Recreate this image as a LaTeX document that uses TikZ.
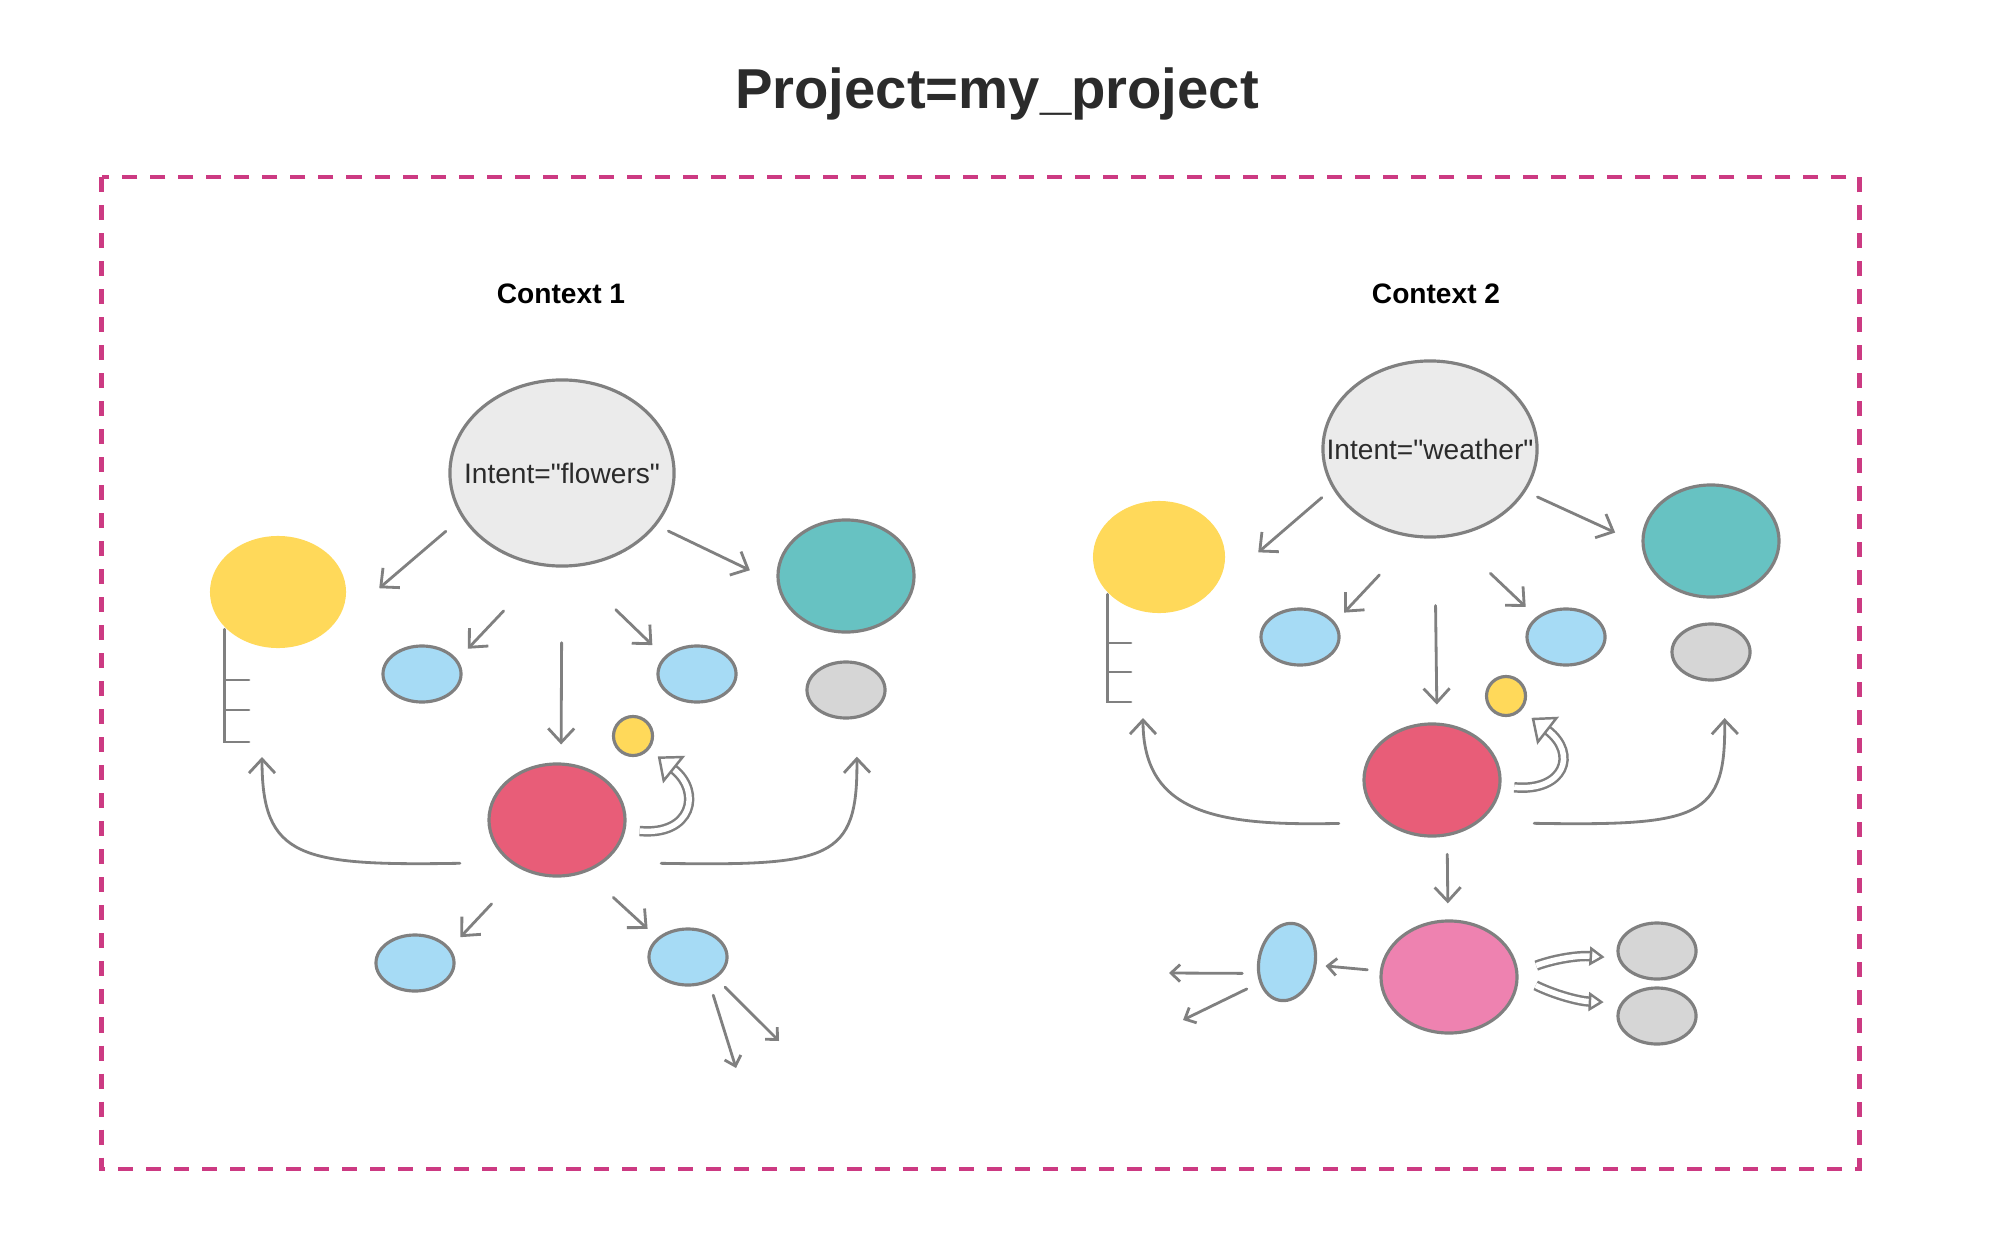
\documentclass[tikz,border=0pt]{standalone}
\usepackage{fontspec}
\newfontfamily\diagfont{Liberation Sans}
\usetikzlibrary{arrows.meta,shapes.geometric}

\definecolor{framepink}{RGB}{204,58,130}
\definecolor{linegray}{RGB}{128,128,128}
\definecolor{intentgray}{RGB}{235,235,235}
\definecolor{sunyellow}{RGB}{255,217,90}
\definecolor{tealblob}{RGB}{103,194,194}
\definecolor{skyblue}{RGB}{166,219,245}
\definecolor{softgray}{RGB}{214,214,214}
\definecolor{rosered}{RGB}{232,93,120}
\definecolor{candypink}{RGB}{238,130,176}
\definecolor{titlegray}{RGB}{43,43,43}

\begin{document}
\begin{tikzpicture}[x=0.01cm, y=-0.01cm, font=\diagfont,
    >={Straight Barb[length=1.4mm,width=2.6mm]},
    every edge/.style={draw=linegray, line width=0.8pt, line cap=round},
    blob/.style={ellipse, draw=linegray, line width=0.9pt, inner sep=0pt},
    intent/.style={blob, fill=intentgray},
    intenttext/.style={text=titlegray, font=\diagfont\fontsize{8}{10}\selectfont},
    big/.style={blob, minimum width=1.36cm, minimum height=1.12cm},
    small/.style={blob, minimum width=0.78cm, minimum height=0.56cm},
    dotblob/.style={blob, fill=sunyellow, minimum size=0.39cm},
    penline/.style={draw=linegray, line width=0.8pt, line cap=round},
    smalltip/.style={-{Straight Barb[length=0.9mm,width=1.7mm]}},
    hollow/.style={draw=linegray, line width=0.7pt, double=white, double distance=0.55mm},
    ctx/.style={font=\diagfont\bfseries\fontsize{8}{10}\selectfont, anchor=base}]
  \useasboundingbox (0,0) rectangle (1992,1243);

  \node[font=\diagfont\bfseries\fontsize{16}{19}\selectfont, text=titlegray, anchor=base] (title) at (997,109) {Project=my\_project};
  \draw[framepink, line width=1.4pt, dash pattern=on 1.5mm off 1.3mm] (101.5,177) rectangle (1859,1169);

  \node[ctx] (ctx1) at (561,304) {Context 1};
  \node[intent, minimum width=2.24cm, minimum height=1.86cm, label={[intenttext]center:Intent="flowers"}] (intent1) at (562,473) {};
  \node[big, fill=sunyellow, draw=none] (yel1) at (278,592) {};
  \node[big, fill=tealblob] (teal1) at (846,576) {};
  \node[small, fill=skyblue] (blue1a) at (422,674) {};
  \node[small, fill=skyblue] (blue1b) at (697,674) {};
  \node[small, fill=softgray] (grey1) at (846,690) {};
  \node[dotblob] (dot1) at (633,736) {};
  \node[big, fill=rosered] (red1) at (557,820) {};
  \node[small, fill=skyblue] (blue1c) at (415,963) {};
  \node[small, fill=skyblue] (blue1d) at (688,957) {};
  \coordinate (fb1) at (262,757);
  \coordinate (out1a) at (736,1068);
  \coordinate (out1b) at (779,1041);

  \path[->]
  (intent1.204) edge[shorten <=2.1mm, shorten >=7mm] (yel1.319)
  (intent1.331) edge[shorten <=1.3mm, shorten >=3mm] (teal1.186)
  (intent1.260) edge[shorten <=6.1mm, shorten >=1.5mm] (blue1a.22)
  (intent1.276) edge[shorten <=6.1mm, shorten >=1.65mm] (blue1b.152)
  (intent1.270) edge[shorten <=7.5mm, shorten >=1.8mm] (red1.86)
  (red1.236) edge[shorten <=4.6mm, shorten >=1.5mm] (blue1c.23)
  (red1.299) edge[shorten <=3.7mm, shorten >=1.3mm] (blue1d.148)
  (blue1d.310) edge[smalltip, shorten <=1.35mm] (out1a)
  (blue1d.323) edge[smalltip, shorten <=1.25mm] (out1b);

  \draw[penline, ->, shorten <=5mm] (red1.222) .. controls (300,866) and (262,858) .. (fb1);
  \draw[penline, ->, shorten <=5.7mm, shorten >=3.8mm] (red1.318) .. controls (830,866) and (858,860) .. (grey1.-70);
  \draw[hollow, -{Triangle[open, line width=0.7pt, length=2.1mm, width=3.5mm]}, shorten <=1.4mm, shorten >=1.1mm]
    (red1.-8) .. controls (692,836) and (702,792) .. (dot1.-40);
  \draw[penline] (yel1.215) |- (249,742) (226,710) -- (249,710) (226,680) -- (249,680);

  \node[ctx] (ctx2) at (1436,304) {Context 2};
  \node[intent, minimum width=2.14cm, minimum height=1.76cm, label={[intenttext]center:Intent="weather"}] (intent2) at (1430,449) {};
  \node[big, fill=sunyellow, draw=none, minimum width=1.32cm] (yel2) at (1159,557) {};
  \node[big, fill=tealblob] (teal2) at (1711,541) {};
  \node[small, fill=skyblue] (blue2a) at (1300,637) {};
  \node[small, fill=skyblue] (blue2b) at (1566,637) {};
  \node[small, fill=softgray] (grey2a) at (1711,652) {};
  \node[dotblob] (dot2) at (1506,696) {};
  \node[big, fill=rosered] (red2) at (1432,780) {};
  \node[big, fill=candypink] (pink2) at (1449,977) {};
  \node[blob, fill=skyblue, minimum width=0.56cm, minimum height=0.78cm, rotate=-12] (blue2c) at (1287,962) {};
  \node[small, fill=softgray] (grey2b) at (1657,951) {};
  \node[small, fill=softgray] (grey2c) at (1657,1016) {};
  \coordinate (fb2) at (1143,718);
  \coordinate (out2a) at (1169,973);
  \coordinate (out2b) at (1183,1020);

  \path[->]
  (intent2.202) edge[shorten <=1.4mm, shorten >=5.8mm] (yel2.329)
  (intent2.336) edge[shorten <=1.3mm, shorten >=2.9mm] (teal2.183)
  (intent2.260) edge[shorten <=5.1mm, shorten >=1.3mm] (blue2a.23)
  (intent2.284) edge[shorten <=5.3mm, shorten >=1.45mm] (blue2b.146)
  (intent2.273) edge[shorten <=6.7mm, shorten >=1.8mm] (red2.85)
  (red2.285) edge[shorten <=1.8mm, shorten >=1.6mm] (pink2.91)
  (pink2.175) edge[smalltip, shorten <=1.25mm, shorten >=0.9mm] (blue2c.6)
  (blue2c.213) edge[smalltip, shorten <=1.5mm] (out2a)
  (blue2c.229) edge[smalltip, shorten <=1.4mm] (out2b);

  \draw[penline, ->, shorten <=4.6mm] (red2.222) .. controls (1220,826) and (1143,815) .. (fb2);
  \draw[penline, ->, shorten <=5.5mm, shorten >=3.8mm] (red2.318) .. controls (1700,826) and (1726,818) .. (grey2a.-65);
  \draw[hollow, -{Triangle[open, line width=0.7pt, length=2.1mm, width=3.5mm]}, shorten <=1.3mm, shorten >=1.25mm]
    (red2.-5) .. controls (1564,792) and (1578,754) .. (dot2.-42);
  \draw[hollow, -{Triangle[open, line width=0.7pt, length=1.5mm, width=1.9mm]}, shorten <=1.9mm, shorten >=1.3mm]
    (pink2.4) to[bend left=12] (grey2b.190);
  \draw[hollow, -{Triangle[open, line width=0.7pt, length=1.5mm, width=1.9mm]}, shorten <=1.9mm, shorten >=1.7mm]
    (pink2.0) to[bend right=12] (grey2c.160);
  \draw[penline] (yel2.216) |- (1131,702) (1109,672) -- (1131,672) (1109,643) -- (1131,643);
\end{tikzpicture}
\end{document}
